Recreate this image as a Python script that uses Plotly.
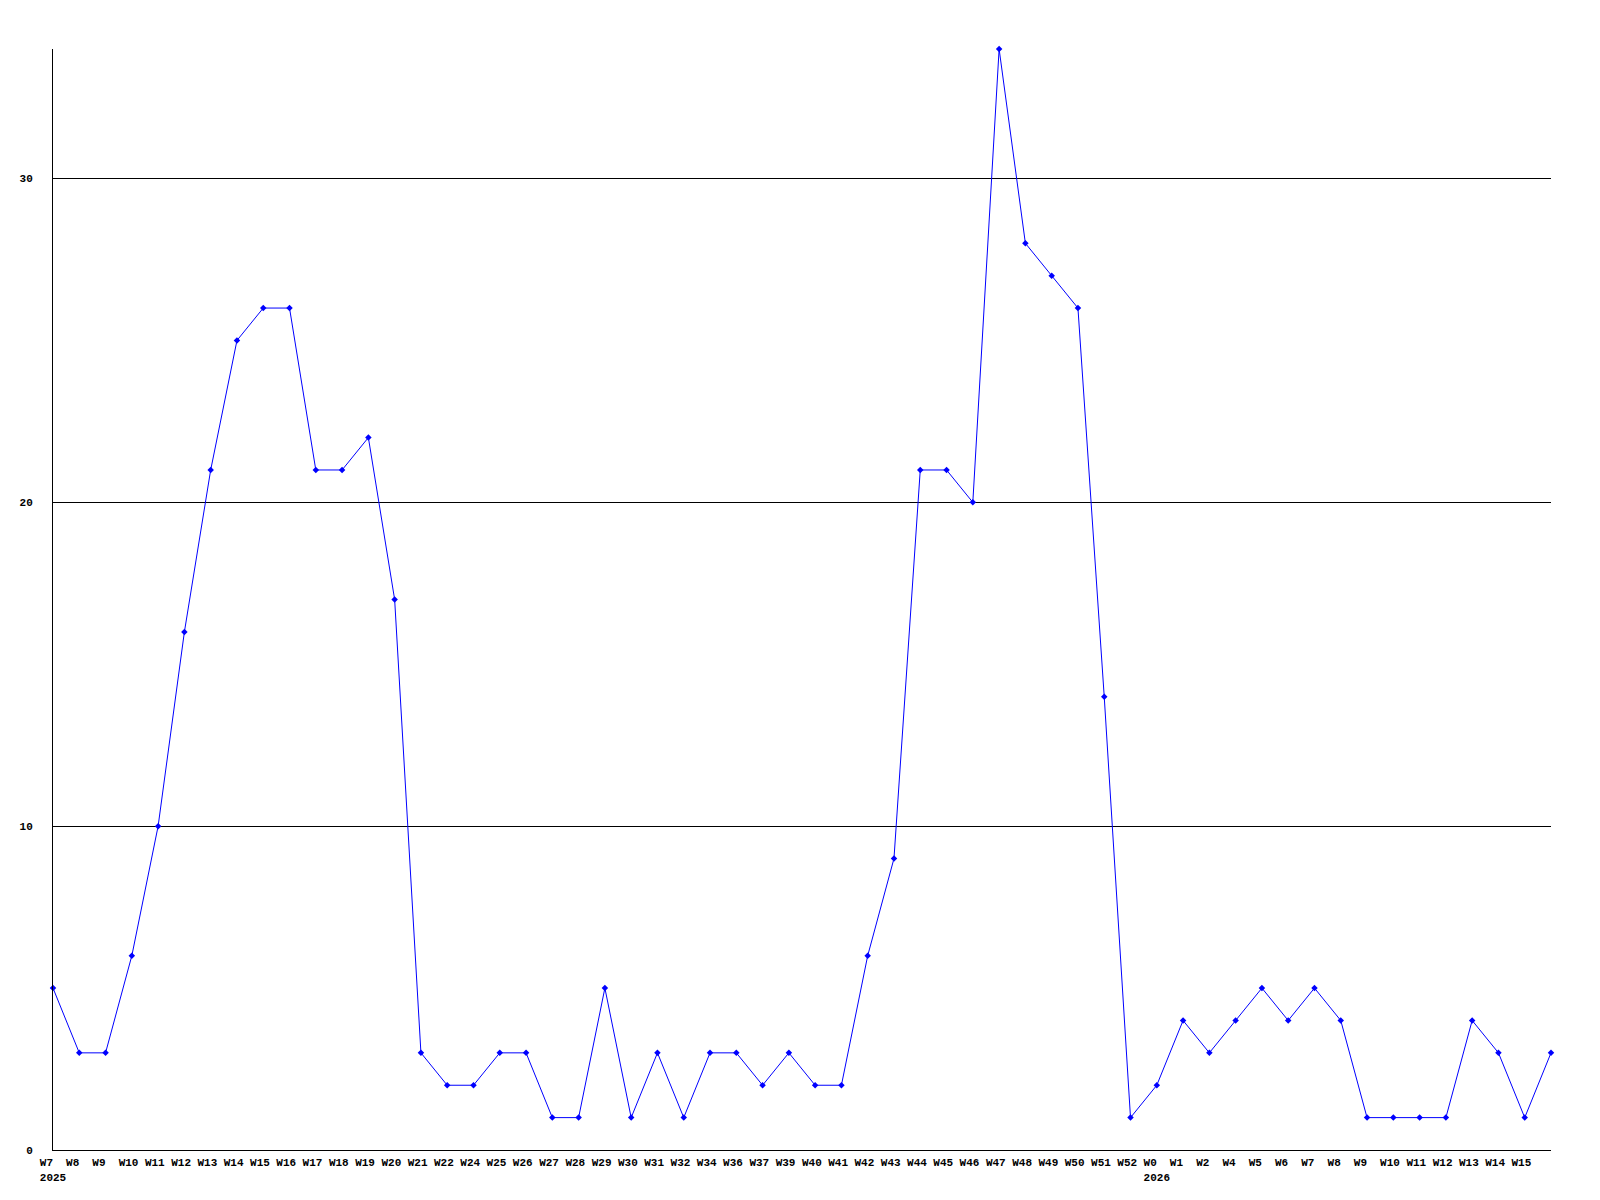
import plotly.graph_objects as go

weeks = ["W7", "W8", "W9", "W10", "W11", "W12", "W13", "W14", "W15", "W16",
         "W17", "W18", "W19", "W20", "W21", "W22", "W24", "W25", "W26", "W27",
         "W28", "W29", "W30", "W31", "W32", "W34", "W36", "W37", "W39", "W40",
         "W41", "W42", "W43", "W44", "W45", "W46", "W47", "W48", "W49", "W50",
         "W51", "W52", "W0", "W1", "W2", "W4", "W5", "W6", "W7", "W8",
         "W9", "W10", "W11", "W12", "W13", "W14", "W15", ""]
years = {0: "2025", 42: "2026"}
values = [5, 3, 3, 6, 10, 16, 21, 25, 26, 26,
          21, 21, 22, 17, 3, 2, 2, 3, 3, 1,
          1, 5, 1, 3, 1, 3, 3, 2, 3, 2,
          2, 6, 9, 21, 21, 20, 34, 28, 27, 26,
          14, 1, 2, 4, 3, 4, 5, 4, 5, 4,
          1, 1, 1, 1, 4, 3, 1, 3]
y_ticks = [0, 10, 20, 30]

xs = list(range(len(values)))
NB = "\u00a0"
ticktext = []
for i, w in enumerate(weeks):
    t = w + NB * (4 - len(w)) if w else ""
    if i in years:
        t = t + "<br>" + years[i]
    ticktext.append(t)

fig = go.Figure()
fig.add_trace(go.Scatter(
    x=xs, y=values, mode="lines+markers",
    line=dict(color="#0000ff", width=1),
    marker=dict(symbol="diamond", size=5, color="#0000ff"),
    showlegend=False, hoverinfo="skip", cliponaxis=False,
))

font = dict(family="Liberation Mono", size=11, color="#000000", weight="bold")
fig.update_layout(
    width=1592, height=1192,
    margin=dict(l=42, r=49, t=41, b=50),
    paper_bgcolor="#ffffff", plot_bgcolor="#ffffff",
    font=font,
    xaxis=dict(
        range=[0, len(values) - 1], tickmode="array",
        tickvals=xs[:-1], ticktext=ticktext[:-1],
        showgrid=False, zeroline=False, showline=True,
        linecolor="#000000", linewidth=1, ticks="",
        tickfont=font, ticklabelstandoff=2, tickangle=0,
    ),
    yaxis=dict(
        range=[0, 34], tickmode="array", tickvals=y_ticks,
        ticktext=[str(v) for v in y_ticks],
        showgrid=True, gridcolor="#000000", gridwidth=1,
        zeroline=False, showline=True, linecolor="#000000", linewidth=1,
        ticks="", tickfont=font, ticklabelstandoff=17,
    ),
)
fig.write_html("out.html")
